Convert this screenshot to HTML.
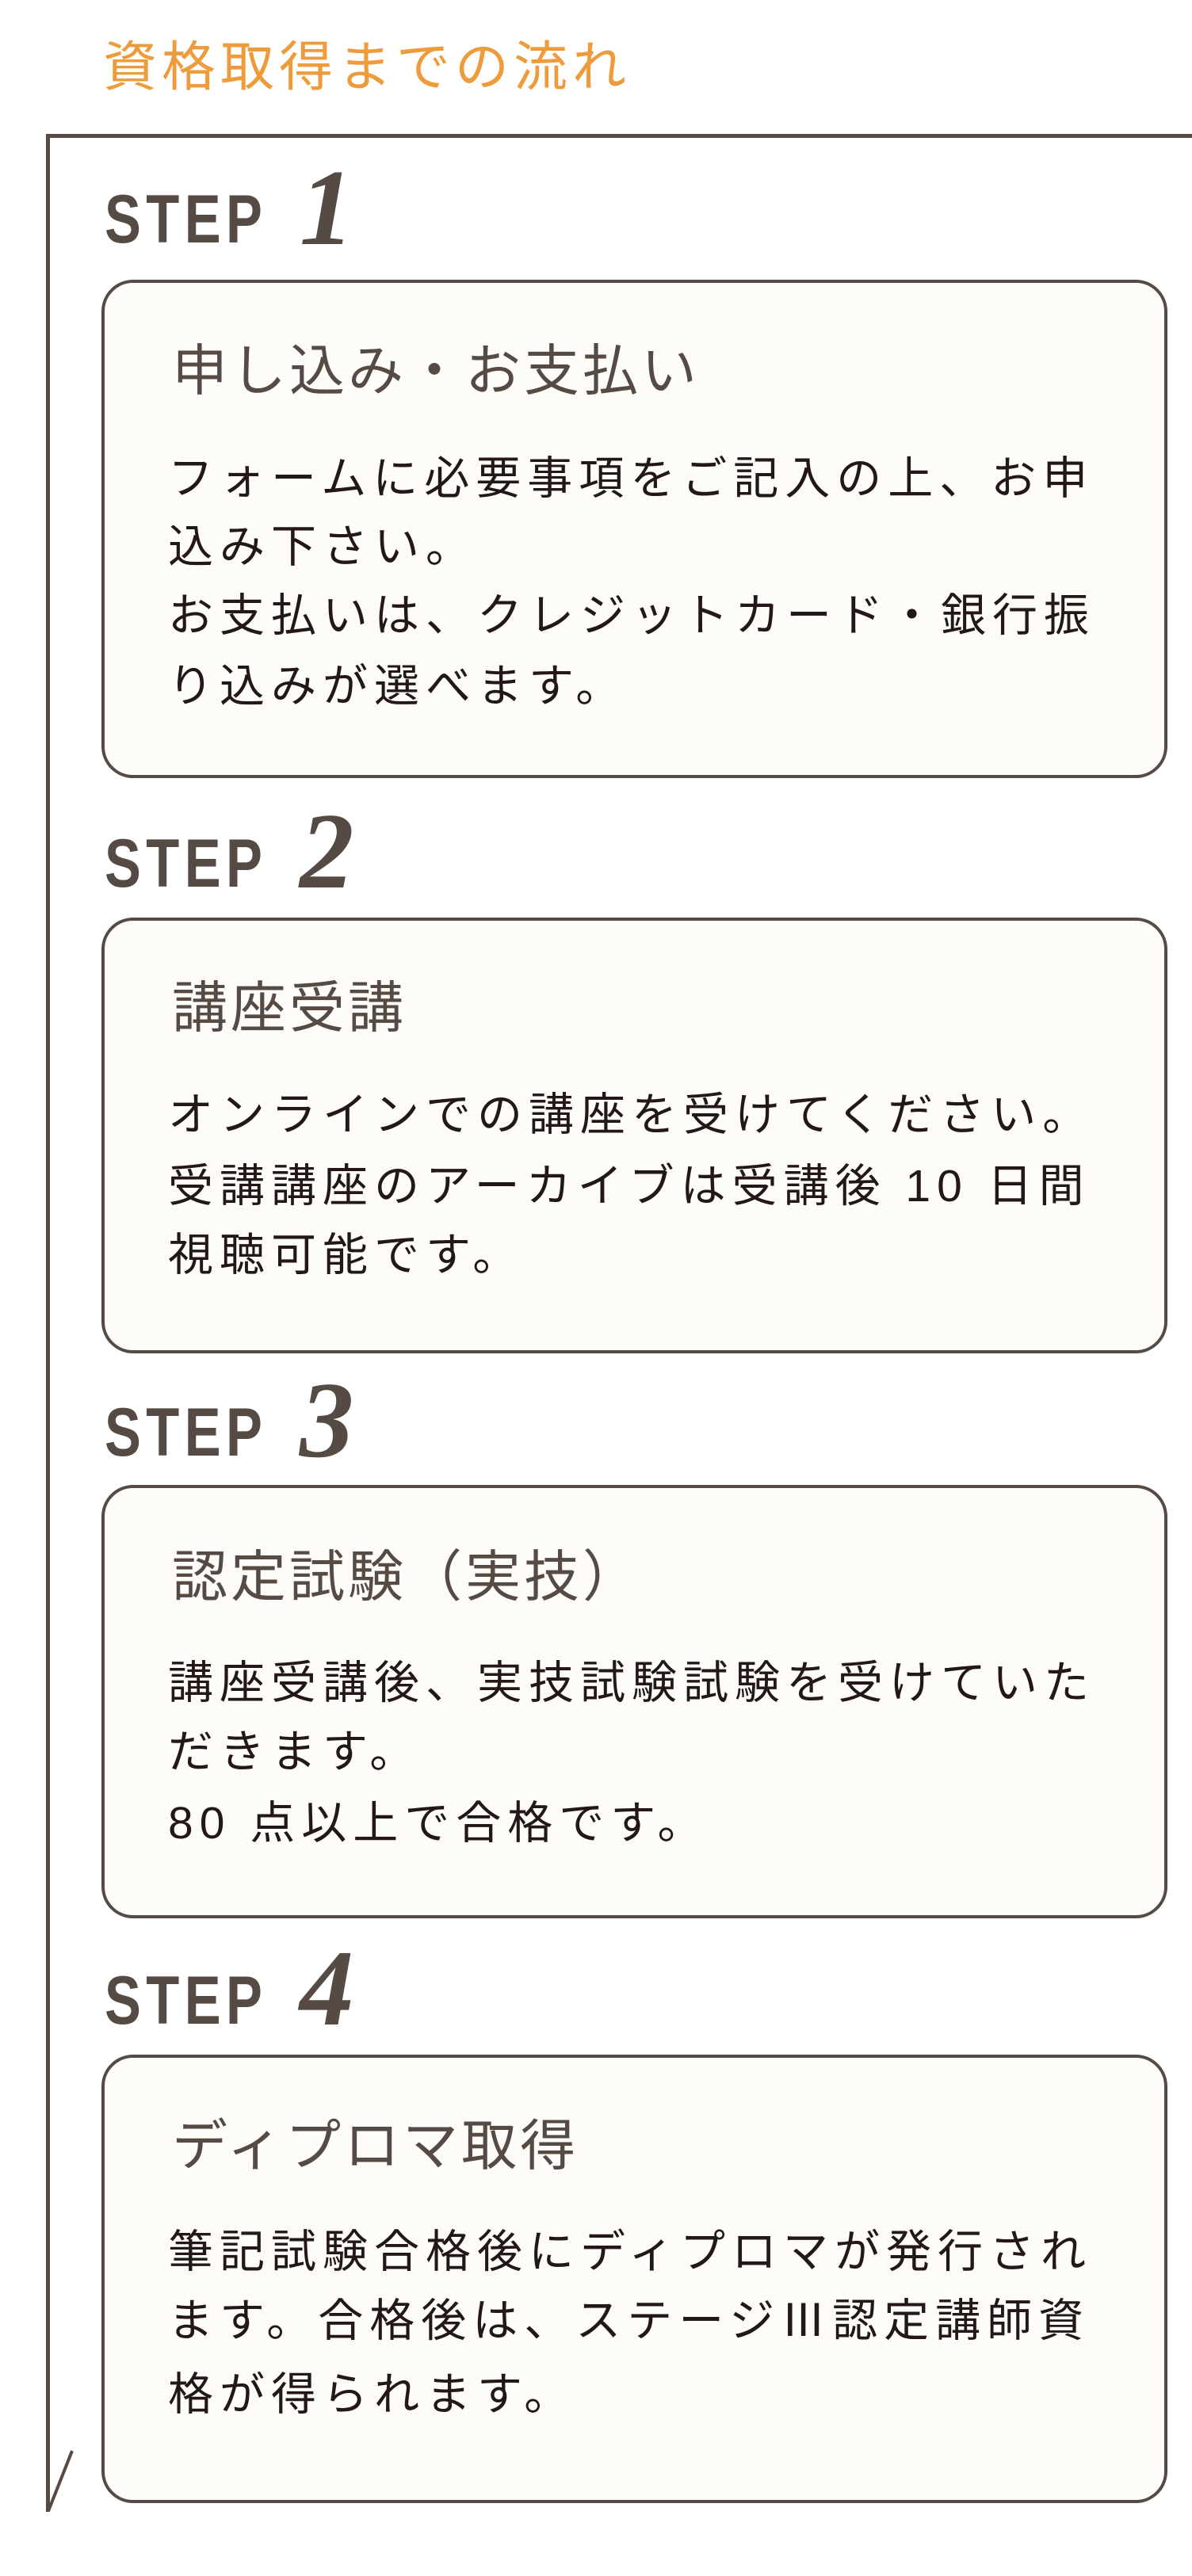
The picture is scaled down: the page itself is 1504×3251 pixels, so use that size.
<!DOCTYPE html>
<html><head><meta charset="utf-8"><style>
html,body{margin:0;padding:0;background:#fff;}
body{width:1504px;height:3251px;position:relative;overflow:hidden;font-family:"Liberation Sans","Noto Sans CJK JP",sans-serif;}
.a{position:absolute;white-space:nowrap;line-height:1;}
.title{left:130px;top:51px;font-size:68px;letter-spacing:6px;color:#ee9b3c;font-family:"Liberation Sans","Noto Sans CJK JP",sans-serif;}
.hl{position:absolute;left:58px;top:169px;width:1446px;height:5px;background:#564a44;}
.vl{position:absolute;left:58px;top:169px;width:5px;height:3001px;background:#564a44;}
.box{position:absolute;left:128px;width:1337px;border:4px solid #564a44;border-radius:40px;background:#fdfcf8;}
.step{font-family:"Liberation Sans",sans-serif;font-weight:bold;font-size:86px;letter-spacing:8px;color:#564a44;transform:scaleX(0.8);transform-origin:0 0;left:132px;}
.num{font-family:"Liberation Serif",serif;font-weight:bold;font-style:italic;font-size:137px;color:#564a44;left:378px;}
.h{left:217px;font-size:70px;letter-spacing:4px;color:#564a44;}
.b{left:212px;font-size:57px;letter-spacing:8px;color:#231815;}
</style></head><body>
<div class="a title">資格取得までの流れ</div>
<div class="hl"></div><div class="vl"></div>
<svg style="position:absolute;left:0;top:0" width="1504" height="3251"><line x1="91" y1="3093" x2="61" y2="3169" stroke="#564a44" stroke-width="4"/></svg>

<div class="a step" style="top:234px">STEP</div>
<div class="a num" style="top:194px">1</div>
<div class="box" style="top:353px;height:621px"></div>
<div class="a h" style="top:433px">申し込み・お支払い</div>
<div class="a b" style="top:576px">フォームに必要事項をご記入の上、お申</div>
<div class="a b" style="top:662px">込み下さい。</div>
<div class="a b" style="top:749px">お支払いは、クレジットカード・銀行振</div>
<div class="a b" style="top:838px">り込みが選べます。</div>

<div class="a step" style="top:1047px">STEP</div>
<div class="a num" style="top:1006px">2</div>
<div class="box" style="top:1158px;height:542px"></div>
<div class="a h" style="top:1237px">講座受講</div>
<div class="a b" style="top:1379px">オンラインでの講座を受けてください。</div>
<div class="a b" style="top:1469px">受講講座のアーカイブは受講後 10 日間</div>
<div class="a b" style="top:1556px">視聴可能です。</div>

<div class="a step" style="top:1765px">STEP</div>
<div class="a num" style="top:1724px">3</div>
<div class="box" style="top:1874px;height:539px"></div>
<div class="a h" style="top:1955px">認定試験（実技）</div>
<div class="a b" style="top:2096px">講座受講後、実技試験試験を受けていた</div>
<div class="a b" style="top:2183px">だきます。</div>
<div class="a b" style="top:2273px">80 点以上で合格です。</div>

<div class="a step" style="top:2482px">STEP</div>
<div class="a num" style="top:2441px">4</div>
<div class="box" style="top:2593px;height:558px"></div>
<div class="a h" style="top:2673px">ディプロマ取得</div>
<div class="a b" style="top:2814px">筆記試験合格後にディプロマが発行され</div>
<div class="a b" style="top:2901px">ます。合格後は、ステージⅢ認定講師資</div>
<div class="a b" style="top:2994px">格が得られます。</div>
</body></html>
